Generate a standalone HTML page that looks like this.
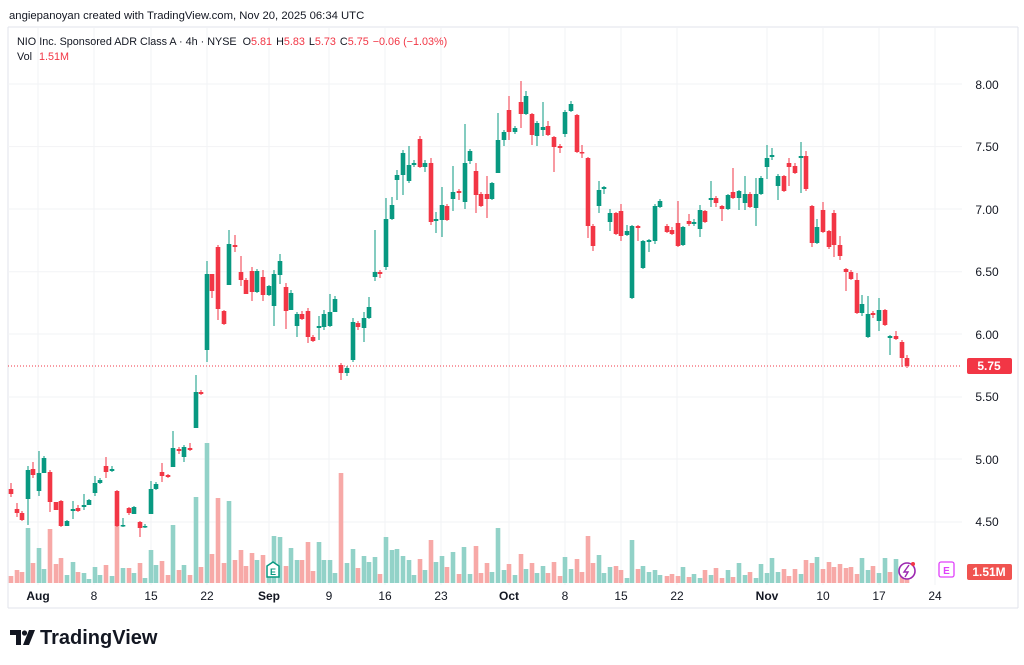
<!DOCTYPE html>
<html><head><meta charset="utf-8">
<style>
body{margin:0;background:#fff;width:1024px;height:665px;overflow:hidden;font-family:"Liberation Sans",sans-serif;}
svg{position:absolute;left:0;top:0}
</style></head><body>
<svg id="s" width="1024" height="665" xmlns="http://www.w3.org/2000/svg">
<rect width="1024" height="665" fill="#fff"/>
<text x="9" y="19" font-size="11.3" fill="#131722">angiepanoyan created with TradingView.com, Nov 20, 2025 06:34 UTC</text>
<line x1="8" y1="27" x2="1018" y2="27" stroke="#e0e3eb"/>
<line x1="1018" y1="27" x2="1018" y2="608" stroke="#e0e3eb"/>
<line x1="8" y1="608" x2="1018" y2="608" stroke="#e0e3eb"/>
<line x1="8" y1="27" x2="8" y2="608" stroke="#e0e3eb"/>
<g id="grid" stroke="#f2f3f5" stroke-width="1"></g>
<g font-size="10.8" fill="#131722">
<text x="17" y="45">NIO Inc. Sponsored ADR Class A · 4h · NYSE <tspan dx="3">O</tspan><tspan fill="#f23645">5.81</tspan><tspan dx="4">H</tspan><tspan fill="#f23645">5.83</tspan><tspan dx="4">L</tspan><tspan fill="#f23645">5.73</tspan><tspan dx="4">C</tspan><tspan fill="#f23645">5.75</tspan><tspan dx="4" fill="#f23645">−0.06 (−1.03%)</tspan></text>
<text x="17" y="60">Vol <tspan dx="4" fill="#f23645">1.51M</tspan></text>
</g>
<g id="vol"></g>
<g id="cdl"></g>
<line x1="8" y1="366" x2="962" y2="366" stroke="#f23645" stroke-dasharray="1,2" stroke-width="1"/>
<g font-size="12" fill="#131722" text-anchor="middle">
<text x="987" y="89">8.00</text><text x="987" y="151">7.50</text><text x="987" y="214">7.00</text>
<text x="987" y="276">6.50</text><text x="987" y="339">6.00</text><text x="987" y="401">5.50</text>
<text x="987" y="464">5.00</text><text x="987" y="526">4.50</text>
</g>
<rect x="967" y="358" width="45" height="16" rx="2" fill="#f23645"/>
<text x="989" y="370" font-size="12" fill="#fff" text-anchor="middle" font-weight="bold">5.75</text>
<rect x="967" y="564" width="45" height="16" rx="2" fill="#f05350"/>
<text x="989" y="576" font-size="12" fill="#fff" text-anchor="middle" font-weight="bold">1.51M</text>
<rect x="939" y="562" width="15" height="15" rx="2" fill="#fff" stroke="#e040fb" stroke-width="1.3"/>
<text x="946.5" y="574" font-size="10" fill="#e040fb" text-anchor="middle" font-weight="bold">E</text>
<circle cx="907" cy="571" r="8" fill="#fff" stroke="#9c27b0" stroke-width="1.6"/>
<path d="M909 565 L904 572 L908 572 L905 577" stroke="#9c27b0" stroke-width="1.4" fill="none"/>
<circle cx="913" cy="564" r="2" fill="#f23645"/>
<path d="M267 566 L273 562 L279 566 L279 577 L267 577 Z" fill="#fff" stroke="#089981" stroke-width="1.5"/>
<text x="273" y="575" font-size="9" fill="#089981" text-anchor="middle" font-weight="bold">E</text>
<g font-size="12" fill="#131722" text-anchor="middle">
<text x="38" y="600" font-weight="bold">Aug</text><text x="94" y="600">8</text><text x="151" y="600">15</text>
<text x="207" y="600">22</text><text x="269" y="600" font-weight="bold">Sep</text><text x="329" y="600">9</text>
<text x="385" y="600">16</text><text x="441" y="600">23</text><text x="509" y="600" font-weight="bold">Oct</text>
<text x="565" y="600">8</text><text x="621" y="600">15</text><text x="677" y="600">22</text>
<text x="767" y="600" font-weight="bold">Nov</text><text x="823" y="600">10</text><text x="879" y="600">17</text><text x="935" y="600">24</text>
</g>
<g transform="translate(10,628)">
<path d="M0 2 H11 V17 H6 V7 H0 Z" fill="#131722"/>
<circle cx="14.5" cy="5" r="2.6" fill="#131722"/>
<path d="M19 2 H25 L19 17 H13 Z" fill="#131722"/>
</g>
<text x="40" y="644" font-size="20" font-weight="bold" fill="#131722">TradingView</text>
</svg>
<script>
var NS="http://www.w3.org/2000/svg";
function el(p,t,a){var e=document.createElementNS(NS,t);for(var k in a)e.setAttribute(k,a[k]);p.appendChild(e);return e;}
var g=document.getElementById('grid');
[84,146.6,209,271.8,334,397,459,522].forEach(function(y){el(g,'line',{x1:8,x2:962,y1:y,y2:y});});
[38,94,151,207,269,329,385,441,509,565,621,677,767,823,879,935].forEach(function(x){el(g,'line',{x1:x,x2:x,y1:28,y2:585});});
var G='#089981',R='#f23645';
var C=[
[11,489,494,483,497,R],[17,509,513,503,517,R],[22,513,520,511,521,R],[28,470,499,466,525,G],[33,469,475,462,478,R],
[39,473,491,451,496,G],[44,458,473,456,473,G],[50,472,502,470,512,R],[56,502,510,502,510,R],[61,501,526,500,527,R],
[67,521,526,520,526,G],[73,509,511,501,519,G],[78,508,511,505,512,R],[84,505,507,494,510,G],[89,500,505,499,505,G],
[95,483,493,476,496,G],[100,480,483,478,484,G],[106,466,472,457,478,R],[112,469,471,466,472,G],[117,491,526,490,527,R],
[123,525,526,518,527,G],[129,508,513,507,515,R],[134,507,514,506,514,G],[140,522,528,521,537,R],[145,526,527,524,528,G],
[151,489,514,481,514,G],[156,484,489,482,490,G],[162,472,476,463,482,R],[168,475,477,474,478,R],[173,448,467,431,467,G],
[179,449,451,447,454,R],[184,447,457,445,462,G],[190,448,450,443,451,R],[196,392,428,375,428,G],[201,392,394,390,395,R],
[207,274,350,261,362,G],[212,274,291,274,298,R],[218,247,309,245,320,R],[224,311,324,310,325,R],[229,244,285,230,285,G],
[235,245,247,235,252,R],[241,272,280,256,286,R],[246,280,294,278,294,R],[252,271,292,267,301,R],[257,271,292,269,293,G],
[263,277,295,270,301,R],[269,286,295,285,296,G],[274,274,306,270,326,G],[280,261,275,254,284,G],[286,287,311,283,329,R],
[291,293,310,290,310,G],[297,314,326,312,337,G],[302,314,319,311,320,R],[308,311,337,308,343,R],[313,337,341,335,342,R],
[319,326,328,316,340,G],[324,314,327,310,330,G],[330,312,326,294,327,G],[335,299,312,296,312,G],
[341,365,373,363,380,R],[347,368,373,366,376,G],[353,322,360,318,362,G],[358,323,327,321,330,R],[364,318,328,312,342,G],
[369,307,318,297,319,G],[375,272,277,230,281,G],[380,272,274,270,278,R],[386,219,267,198,270,G],[392,205,219,197,220,G],
[397,175,180,170,200,G],[403,153,175,150,195,G],[409,165,181,146,183,G],[414,163,165,160,167,G],[420,139,167,136,168,R],
[425,163,167,160,172,G],[431,163,222,158,225,R],[436,219,221,212,233,G],[442,205,220,187,237,G],[447,206,220,204,221,R],
[453,192,199,166,211,G],[459,191,193,189,200,R],[465,163,202,124,209,G],[470,151,161,149,164,G],[476,171,195,163,213,R],
[481,194,206,192,207,R],[487,194,199,176,218,R],[492,183,199,182,200,G],[498,140,173,113,173,G],[504,132,140,130,146,G],
[509,110,132,96,140,R],[515,128,132,126,134,G],[521,102,114,81,128,R],[526,96,114,91,115,G],[532,114,135,113,145,R],
[537,123,136,121,146,G],[543,127,130,102,136,G],[548,126,135,121,136,R],[554,137,147,136,172,R],[560,146,148,144,153,R],
[565,112,134,110,137,G],[571,104,111,101,112,G],[577,115,152,114,153,R],[582,152,153,145,158,R],[588,158,226,157,238,R],
[593,226,246,224,251,R],[599,190,206,181,213,G],[604,187,189,186,194,G],[610,213,222,209,231,G],[616,213,234,212,235,R],
[621,211,236,204,241,R],[627,231,235,225,236,G],[632,226,298,225,299,G],[638,226,228,225,241,R],[643,241,268,240,269,G],
[649,240,242,239,252,G],[655,206,241,204,244,G],[660,201,207,199,208,G],[667,226,232,224,233,R],
[672,230,234,227,235,R],[678,223,246,201,247,R],[683,227,245,226,246,G],[689,221,224,214,226,R],[694,222,224,219,226,G],
[700,210,229,205,237,G],[705,211,222,210,223,R],[711,198,200,181,207,G],[716,198,203,196,207,R],[722,206,209,205,221,R],
[728,195,209,194,210,G],[733,192,198,168,199,R],[739,191,198,190,210,G],[745,194,203,176,210,G],[750,194,207,192,208,R],
[756,194,208,178,226,G],[761,178,194,176,195,G],[767,158,167,145,179,G],[772,155,157,148,160,G],[778,176,186,174,200,G],
[784,176,191,175,192,R],[789,163,167,158,186,R],[795,166,173,163,174,R],[801,156,158,142,193,G],[806,156,189,151,191,R],
[812,206,243,205,247,R],[817,227,243,219,244,G],[823,210,232,202,233,R],[829,231,247,230,249,R],[834,213,245,210,257,R],
[840,245,256,236,260,R],[846,269,272,268,291,R],[851,272,279,270,280,R],[857,280,313,273,314,R],[862,304,313,295,316,G],
[868,314,337,296,338,G],[873,313,315,311,318,R],[879,310,321,298,331,G],[885,310,325,309,326,R],[890,336,338,335,355,G],
[896,336,339,331,340,R],[902,342,358,340,367,R],[907,358,366,355,368,R]
];
var cg=document.getElementById('cdl');
C.forEach(function(c){
 el(cg,'line',{x1:c[0],x2:c[0],y1:c[3],y2:c[4],stroke:c[5],'stroke-width':1});
 var h=Math.max(1.5,c[2]-c[1]);
 el(cg,'rect',{x:c[0]-2.3,y:c[1],width:4.6,height:h,fill:c[5]});
});
var V=[
[11,7,R],[17,13,R],[22,11,R],[28,55,G],[33,20,R],[39,35,G],[44,14,G],[50,54,R],[56,19,R],[61,25,R],[67,8,G],[73,21,G],[78,11,R],[84,10,G],[89,4,G],[95,16,G],[100,8,G],[106,18,R],[112,7,G],[117,57,R],[123,15,G],[129,15,R],[134,10,G],[140,20,R],[145,5,G],[151,33,G],[156,18,G],[162,22,R],[168,8,R],[173,58,G],[179,13,R],[184,18,G],[190,8,R],[196,86,G],[201,16,R],[207,140,G],[212,29,R],[218,85,R],[224,20,R],[229,82,G],[235,23,R],[241,33,R],[246,17,R],[252,30,R],[257,23,G],[263,28,R],[269,16,G],[274,47,G],[280,46,G],[286,17,R],[291,35,G],[297,23,G],[302,23,R],[308,41,R],[313,12,R],[319,41,G],[324,23,G],
[330,23,G],[335,10,G],[341,110,R],[347,20,G],[353,34,G],[358,15,R],[364,27,G],[369,21,G],[375,26,G],[380,9,R],[386,46,G],[392,33,G],[397,34,G],[403,27,G],[409,23,G],[414,8,G],[420,24,R],[425,13,G],[431,43,R],[436,21,G],[442,27,G],[447,16,R],[453,31,G],[459,9,R],[464,36,G],[470,9,G],[476,37,R],[481,10,R],[487,20,R],[492,11,G],[498,55,G],[504,13,G],[509,19,R],[515,8,G],[521,29,R],[526,14,G],[532,20,R],[537,10,G],[543,17,G],[548,10,R],[554,21,R],[560,7,R],[565,26,G],[571,14,G],[577,24,R],[582,11,R],[588,47,R],[593,20,R],[599,28,G],[604,10,G],[610,16,G],[616,17,R],[621,13,R],[627,5,G],[632,43,G],[638,14,R],[643,17,G],[649,11,G],[655,13,G],[660,8,G],[667,7,R],
[672,9,R],[678,7,R],[683,16,G],[689,6,R],[694,9,G],[700,5,G],[705,13,R],[711,8,G],[716,15,R],[722,5,R],[728,13,G],[733,6,R],[739,20,G],[745,8,G],[750,11,R],[756,5,G],[761,19,G],[767,10,G],[772,25,G],[778,11,G],[784,14,R],[789,7,R],[795,14,R],[801,9,G],[806,23,R],[812,20,R],[817,26,G],[823,14,R],[829,21,R],[834,16,R],[840,19,R],[846,15,R],[851,16,R],[857,9,R],[862,25,G],[868,13,G],[873,17,R],[879,10,G],[885,25,G],[890,11,R],[896,24,G],[902,11,R],[907,7,R]
];
var vg=document.getElementById('vol');
V.forEach(function(v){el(vg,'rect',{x:v[0]-2.3,y:583-v[1],width:4.6,height:v[1],fill:v[2]==G?'#92d2c8':'#f7a9a7'});});
</script>
</body></html>
